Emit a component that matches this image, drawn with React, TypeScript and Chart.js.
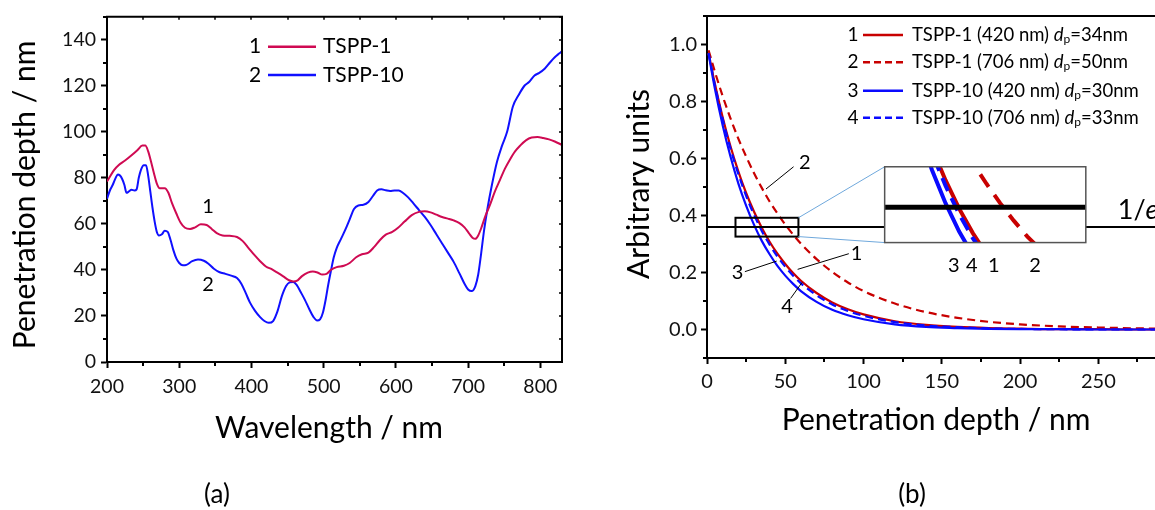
import React, { useEffect, useRef } from "react";
import { Chart, registerables } from "chart.js";
Chart.register(...registerables);

const FONT = "Lato, 'Open Sans', 'DejaVu Sans', sans-serif";

// ---------------- Panel (a) data ----------------
const SERIES_A = ["TSPP-1", "TSPP-10"];
const WL_TSPP1 = [200, 210, 216, 225, 234, 242, 249, 253, 257, 261, 265, 269, 273, 280, 285, 290, 296, 302, 308, 315, 322, 330, 338, 345, 352, 360, 370, 380, 388, 396, 404, 412, 420, 428, 436, 444, 452, 458, 464, 470, 478, 485, 492, 498, 504, 510, 518, 528, 536, 545, 553, 562, 570, 578, 586, 595, 603, 612, 622, 632, 640, 648, 656, 664, 672, 680, 688, 695, 701, 706, 710, 714, 718, 724, 730, 737, 744, 751, 758, 765, 772, 780, 788, 796, 804, 812, 820, 830];
const PD_TSPP1 = [78.4, 83.5, 85.5, 87.5, 89.8, 92, 94, 94, 91.5, 87, 82, 77.5, 75.5, 75.5, 73.5, 69, 64.5, 60.5, 58.3, 57.8, 58.5, 59.8, 59.5, 57.8, 56, 55, 54.8, 54.3, 52.5, 49.5, 46.5, 43.8, 41.5, 40.3, 38.8, 37.2, 35.5, 35, 35.5, 37.3, 38.8, 39.3, 38.8, 38, 38.3, 40, 41.2, 41.8, 43, 45.5, 46.8, 47.5, 50, 53, 55.3, 56.5, 58.3, 61, 63.8, 65.2, 65.5, 65, 64, 63, 62.3, 61.5, 60.3, 58.5, 56, 54, 53.5, 55, 58, 63.5, 68, 74, 79, 84, 88, 91.5, 94, 96.3, 97.5, 97.7, 97.3, 96.7, 95.8, 94.3];
const WL_TSPP10 = [200, 204, 208, 212, 215, 218, 221, 224, 227, 230, 234, 238, 241, 244, 247, 251, 254, 257, 260, 263, 266, 269, 272, 276, 280, 284, 288, 292, 296, 300, 305, 310, 318, 326, 334, 340, 348, 356, 364, 372, 380, 386, 392, 398, 405, 412, 418, 424, 430, 436, 442, 448, 453, 458, 463, 468, 474, 480, 486, 491, 495, 499, 503, 506, 510, 514, 518, 524, 530, 536, 542, 548, 555, 562, 568, 574, 580, 586, 592, 598, 604, 610, 617, 624, 632, 640, 648, 656, 664, 672, 680, 688, 695, 700, 705, 710, 714, 718, 722, 727, 733, 740, 747, 754, 762, 770, 778, 784, 792, 798, 806, 813, 820, 826, 830];
const PD_TSPP10 = [70.9, 74.5, 77, 80, 81.5, 81, 79.5, 77, 73.5, 74, 74.8, 74.5, 75, 80, 83.5, 85.5, 85.5, 81, 74, 67, 61, 56.5, 55, 55.5, 57, 56.5, 53, 48.5, 45, 43, 42, 42.2, 43.8, 44.5, 44, 42.8, 40.5, 39, 38.3, 37.5, 36.5, 34, 30, 25.8, 22.2, 19.5, 17.8, 17, 17.8, 22, 28.5, 33, 34.6, 34.8, 33.3, 30.5, 27, 23, 19.5, 18, 18.5, 21.5, 27.5, 33, 39.5, 45.5, 49.5, 53.5, 57.5, 62, 66.5, 68, 68.3, 69.5, 72, 74.5, 75, 74.6, 74.3, 74.5, 74.5, 73.4, 71.5, 69, 66, 63, 59.5, 55.5, 51.5, 47.5, 43.5, 38.5, 34, 31.5, 30.8, 33, 38, 47, 57, 67, 77, 87, 94, 100, 111, 116, 120, 121.5, 124.5, 125.5, 127.4, 130, 132.4, 134, 135];

// ---------------- Panel (b) data ----------------
const DEPTH = [1, 5, 10, 15, 20, 25, 30, 35, 40, 45, 50, 55, 60, 70, 80, 90, 100, 120, 140, 160, 180, 200, 225, 250, 275, 300];
const AU_TSPP1_420 = [0.97, 0.863, 0.745, 0.643, 0.555, 0.479, 0.414, 0.357, 0.308, 0.266, 0.23, 0.198, 0.171, 0.128, 0.095, 0.071, 0.053, 0.029, 0.016, 0.009, 0.005, 0.003, 0.001, 0.001, 0, 0];
const AU_TSPP1_706 = [0.98, 0.905, 0.819, 0.741, 0.67, 0.607, 0.549, 0.497, 0.449, 0.407, 0.368, 0.333, 0.301, 0.247, 0.202, 0.165, 0.135, 0.091, 0.061, 0.041, 0.027, 0.018, 0.011, 0.007, 0.004, 0.002];
const AU_TSPP10_420 = [0.967, 0.846, 0.717, 0.607, 0.513, 0.435, 0.368, 0.311, 0.264, 0.223, 0.189, 0.16, 0.135, 0.097, 0.069, 0.05, 0.036, 0.018, 0.009, 0.005, 0.002, 0.001, 0.001, 0, 0, 0];
const AU_TSPP10_706 = [0.97, 0.859, 0.739, 0.635, 0.546, 0.469, 0.403, 0.346, 0.298, 0.256, 0.22, 0.189, 0.162, 0.12, 0.088, 0.065, 0.048, 0.026, 0.014, 0.008, 0.004, 0.002, 0.001, 0, 0, 0];
const NAMES_B = ["TSPP-1 (420 nm)", "TSPP-1 (706 nm)", "TSPP-10 (420 nm)", "TSPP-10 (706 nm)"];
const DP_B = ["34", "50", "30", "33"];
const INV_E = 0.36;

const RED_A = "#cf0a52";
const BLUE_A = "#1010ff";
const RED_B = "#c80000";
const BLUE_B = "#0a0aff";

// annotation geometry (data coordinates of panel b)
const ZOOM_BOX = { x0: 18.2, x1: 58.4, y0: 0.326, y1: 0.392 };
const INSET_RECT = { x0: 113.5, x1: 242, y0: 0.305, y1: 0.571 };
const INSET_VIEW = { x0: 7.7, x1: 81.4, y0: 0.289, y1: 0.441 };

function setFont(ctx: CanvasRenderingContext2D, size: number, style = "") {
  ctx.font = `${style} ${size}px ${FONT}`.trim();
}
function txt(ctx: CanvasRenderingContext2D, s: string, x: number, y: number, size: number, align: CanvasTextAlign = "center", baseline: CanvasTextBaseline = "alphabetic", style = "") {
  setFont(ctx, size, style);
  ctx.fillStyle = "#000";
  ctx.textAlign = align;
  ctx.textBaseline = baseline;
  ctx.fillText(s, x, y);
}
function vtxt(ctx: CanvasRenderingContext2D, s: string, x: number, y: number, size: number) {
  ctx.save();
  ctx.translate(x, y);
  ctx.rotate(-Math.PI / 2);
  txt(ctx, s, 0, 0, size, "center", "alphabetic");
  ctx.restore();
}
function seg(ctx: CanvasRenderingContext2D, x0: number, y0: number, x1: number, y1: number) {
  ctx.beginPath();
  ctx.moveTo(x0, y0);
  ctx.lineTo(x1, y1);
  ctx.stroke();
}

function minorTicks(ctx: CanvasRenderingContext2D, chart: any, isMajorX: (v: number) => boolean, isMajorY: (v: number) => boolean) {
  const { chartArea: ca, scales } = chart;
  ctx.strokeStyle = "#000";
  ctx.lineWidth = 2;
  scales.x.ticks.forEach((t: any) => {
    if (isMajorX(t.value)) return;
    const px = Math.round(scales.x.getPixelForValue(t.value));
    seg(ctx, px, ca.bottom, px, ca.bottom + 4);
  });
  scales.y.ticks.forEach((t: any) => {
    if (isMajorY(t.value)) return;
    const py = Math.round(scales.y.getPixelForValue(t.value));
    seg(ctx, ca.left, py, ca.left - 4, py);
  });
}

const majA_x = (v: number) => Math.round(v) % 100 === 0;
const majA_y = (v: number) => Math.round(v) % 20 === 0;
const majB_x = (v: number) => Math.round(v) % 50 === 0;
const majB_y = (v: number) => Math.abs(Math.round(v * 10)) % 2 === 0;

function axisOpts(min: number, max: number, step: number, isMajor: (v: number) => boolean, fmt: (v: number) => string, fit: (s: any) => void, padding: number, size: number) {
  return {
    type: "linear" as const,
    min,
    max,
    ticks: {
      stepSize: step,
      includeBounds: false,
      autoSkip: false,
      maxRotation: 0,
      minRotation: 0,
      padding,
      color: "#111",
      font: { family: FONT, size },
      callback: (v: any) => (isMajor(Number(v)) ? fmt(Number(v)) : ""),
    },
    grid: {
      display: true,
      drawOnChartArea: false,
      drawTicks: true,
      tickLength: 6,
      tickWidth: 2,
      tickColor: (c: any) => (c.tick && isMajor(c.tick.value) ? "#000" : "rgba(0,0,0,0)"),
    },
    border: { display: true, color: "#000", width: 2 },
    afterFit: fit,
  };
}

// ---------------- Panel (a) plugin ----------------
const panelA = {
  id: "panelA",
  afterDraw(chart: any) {
    const { ctx, chartArea: ca, scales } = chart;
    const xs = scales.x, ys = scales.y;
    ctx.save();
    ctx.strokeStyle = "#000";
    ctx.lineWidth = 2;
    seg(ctx, ca.left - 1, ca.top, ca.right + 1, ca.top);
    seg(ctx, ca.right, ca.top, ca.right, ca.bottom + 1);
    minorTicks(ctx, chart, majA_x, majA_y);
    // mirror ticks (inward) on top and right
    ctx.lineWidth = 1.5;
    xs.ticks.forEach((t: any) => {
      const px = Math.round(xs.getPixelForValue(t.value));
      seg(ctx, px, ca.top, px, ca.top + 3);
    });
    ys.ticks.forEach((t: any) => {
      const py = Math.round(ys.getPixelForValue(t.value));
      seg(ctx, ca.right, py, ca.right - 3, py);
    });
    // legend
    const rows = [46.7, 75];
    const cols = [RED_A, BLUE_A];
    rows.forEach((ry, i) => {
      txt(ctx, String(i + 1), 255, ry, 21, "center", "middle");
      ctx.strokeStyle = cols[i];
      ctx.lineWidth = 2.5;
      seg(ctx, 268, ry, 316, ry);
      txt(ctx, SERIES_A[i], 323, ry, 21, "left", "middle");
    });
    // curve labels
    txt(ctx, "1", xs.getPixelForValue(340), ys.getPixelForValue(67.4), 20, "center", "middle");
    txt(ctx, "2", xs.getPixelForValue(340), ys.getPixelForValue(33.5), 20, "center", "middle");
    // axis titles
    txt(ctx, "Wavelength / nm", 329, 438, 30);
    vtxt(ctx, "Penetration depth / nm", 35, 195, 30);
    txt(ctx, "(a)", 217, 503, 26);
    ctx.restore();
  },
};

// ---------------- Panel (b) plugin ----------------
const LEADERS = [
  { label: "2", from: [37.7, 0.493], to: [55.3, 0.571], at: [62.5, 0.585] },
  { label: "1", from: [57.9, 0.211], to: [90.6, 0.266], at: [95.5, 0.268] },
  { label: "3", from: [24.2, 0.203], to: [44.5, 0.24], at: [19.5, 0.199] },
  { label: "4", from: [53.4, 0.109], to: [60.7, 0.165], at: [51.2, 0.081] },
];
const INSET_LABELS = [
  { label: "3", x: 157.6 },
  { label: "4", x: 169.2 },
  { label: "1", x: 183.2 },
  { label: "2", x: 209.6 },
];

const panelB = {
  id: "panelB",
  afterDatasetsDraw(chart: any) {
    const { ctx, chartArea: ca, scales } = chart;
    const xs = scales.x, ys = scales.y;
    const X = (v: number) => xs.getPixelForValue(v);
    const Y = (v: number) => ys.getPixelForValue(v);
    ctx.save();
    // 1/e line
    ctx.strokeStyle = "#000";
    ctx.lineWidth = 2;
    seg(ctx, ca.left, Math.round(Y(INV_E)), ca.right, Math.round(Y(INV_E)));
    // zoom box
    const bx0 = X(ZOOM_BOX.x0), bx1 = X(ZOOM_BOX.x1), by0 = Y(ZOOM_BOX.y1), by1 = Y(ZOOM_BOX.y0);
    ctx.strokeRect(bx0, by0, bx1 - bx0, by1 - by0);
    // inset rect
    const ix0 = X(INSET_RECT.x0), ix1 = X(INSET_RECT.x1), iy0 = Y(INSET_RECT.y1), iy1 = Y(INSET_RECT.y0);
    // connectors
    ctx.strokeStyle = "#6fa8dc";
    ctx.lineWidth = 1;
    seg(ctx, bx1, by0, ix0, iy0);
    seg(ctx, bx1, by1, ix0, iy1);
    ctx.fillStyle = "#fff";
    ctx.fillRect(ix0, iy0, ix1 - ix0, iy1 - iy0);
    ctx.save();
    ctx.beginPath();
    ctx.rect(ix0, iy0, ix1 - ix0, iy1 - iy0);
    ctx.clip();
    const map = (x: number, y: number) => [
      ix0 + ((x - INSET_VIEW.x0) / (INSET_VIEW.x1 - INSET_VIEW.x0)) * (ix1 - ix0),
      iy0 + ((INSET_VIEW.y1 - y) / (INSET_VIEW.y1 - INSET_VIEW.y0)) * (iy1 - iy0),
    ];
    const curves = [
      { ys: AU_TSPP1_706, c: RED_B, dash: [15, 10] },
      { ys: AU_TSPP1_420, c: RED_B, dash: [] },
      { ys: AU_TSPP10_706, c: BLUE_B, dash: [14, 8] },
      { ys: AU_TSPP10_420, c: BLUE_B, dash: [] },
    ];
    curves.forEach((cv) => {
      ctx.strokeStyle = cv.c;
      ctx.lineWidth = 4;
      ctx.setLineDash(cv.dash);
      ctx.beginPath();
      DEPTH.forEach((d, i) => {
        const [px, py] = map(d, cv.ys[i]);
        if (i === 0) ctx.moveTo(px, py);
        else ctx.lineTo(px, py);
      });
      ctx.stroke();
    });
    ctx.setLineDash([]);
    ctx.strokeStyle = "#000";
    ctx.lineWidth = 5;
    const [, ly] = map(0, INV_E);
    seg(ctx, ix0, ly, ix1, ly);
    ctx.restore();
    ctx.strokeStyle = "#555";
    ctx.lineWidth = 1.5;
    ctx.strokeRect(ix0, iy0, ix1 - ix0, iy1 - iy0);
    ctx.restore();
  },
  afterDraw(chart: any) {
    const { ctx, chartArea: ca, scales } = chart;
    const xs = scales.x, ys = scales.y;
    const X = (v: number) => xs.getPixelForValue(v);
    const Y = (v: number) => ys.getPixelForValue(v);
    ctx.save();
    ctx.strokeStyle = "#000";
    ctx.lineWidth = 2;
    seg(ctx, ca.left - 1, ca.top, ca.right + 1, ca.top);
    seg(ctx, ca.right, ca.top, ca.right, ca.bottom + 1);
    minorTicks(ctx, chart, majB_x, majB_y);
    // leaders
    ctx.lineWidth = 1;
    LEADERS.forEach((l) => {
      ctx.strokeStyle = "#000";
      seg(ctx, X(l.from[0]), Y(l.from[1]), X(l.to[0]), Y(l.to[1]));
      txt(ctx, l.label, X(l.at[0]), Y(l.at[1]), 20, "center", "middle");
    });
    INSET_LABELS.forEach((l) => txt(ctx, l.label, X(l.x), Y(0.223), 20, "center", "middle"));
    // 1/e label
    const ex = X(262.4), ey = Y(0.386);
    txt(ctx, "1/", ex, ey, 27, "left", "alphabetic");
    setFont(ctx, 27);
    const w = ctx.measureText("1/").width;
    txt(ctx, "e", ex + w, ey, 27, "left", "alphabetic", "italic");
    // legend
    const rows = [35, 62.3, 90.7, 117.7];
    const cols = [RED_B, RED_B, BLUE_B, BLUE_B];
    const dashes = [[], [7, 4], [], [7, 4]];
    rows.forEach((ry, i) => {
      txt(ctx, String(i + 1), 253, ry, 19, "center", "middle");
      ctx.strokeStyle = cols[i];
      ctx.lineWidth = 2.5;
      ctx.setLineDash(dashes[i]);
      seg(ctx, 263, ry, 303, ry);
      ctx.setLineDash([]);
      let x = 312;
      const put = (s: string, size: number, style = "", dy = 0) => {
        txt(ctx, s, x, ry + dy, size, "left", "middle", style);
        setFont(ctx, size, style);
        x += ctx.measureText(s).width;
      };
      put(NAMES_B[i] + " ", 18.5);
      put("d", 18.5, "italic");
      put("p", 12, "", 4);
      put("=" + DP_B[i] + "nm", 18.5);
    });
    // axis titles
    txt(ctx, "Penetration depth / nm", 336, 430, 30);
    vtxt(ctx, "Arbitrary units", 49, 184, 30);
    txt(ctx, "(b)", 312, 503, 26);
    ctx.restore();
  },
};

function configA(): any {
  return {
    type: "line",
    data: {
      datasets: [
        { label: SERIES_A[0], data: WL_TSPP1.map((x, i) => ({ x, y: PD_TSPP1[i] })), borderColor: RED_A, borderWidth: 2, pointRadius: 0, cubicInterpolationMode: "monotone", fill: false },
        { label: SERIES_A[1], data: WL_TSPP10.map((x, i) => ({ x, y: PD_TSPP10[i] })), borderColor: BLUE_A, borderWidth: 2, pointRadius: 0, cubicInterpolationMode: "monotone", fill: false },
      ],
    },
    options: {
      responsive: false,
      animation: false,
      events: [],
      layout: { padding: { left: 0, top: 13, right: 38, bottom: 0 } },
      plugins: { legend: { display: false }, tooltip: { enabled: false } },
      scales: {
        x: axisOpts(200, 830, 50, majA_x, (v) => String(v), (s: any) => { s.height = 148; }, 7, 19.5),
        y: axisOpts(0, 150, 10, majA_y, (v) => String(v), (s: any) => { s.width = 107; }, 5, 19.5),
      },
    },
    plugins: [panelA],
  };
}

function configB(): any {
  const mk = (label: string, ys: number[], color: string, dash: number[]) => ({
    label,
    data: DEPTH.map((x, i) => ({ x, y: ys[i] })),
    borderColor: color,
    borderWidth: 2.2,
    borderDash: dash,
    pointRadius: 0,
    cubicInterpolationMode: "monotone",
    fill: false,
  });
  return {
    type: "line",
    data: {
      datasets: [
        mk(NAMES_B[2], AU_TSPP10_420, BLUE_B, []),
        mk(NAMES_B[3], AU_TSPP10_706, BLUE_B, [8, 5]),
        mk(NAMES_B[0], AU_TSPP1_420, RED_B, []),
        mk(NAMES_B[1], AU_TSPP1_706, RED_B, [8, 5]),
      ],
    },
    options: {
      responsive: false,
      animation: false,
      events: [],
      layout: { padding: { left: 0, top: 12, right: 21, bottom: 0 } },
      plugins: { legend: { display: false }, tooltip: { enabled: false } },
      scales: {
        x: axisOpts(0, 300, 25, majB_x, (v) => String(v), (s: any) => { s.height = 152; }, 6, 20),
        y: axisOpts(-0.1, 1.1, 0.1, majB_y, (v) => (Math.abs(v) < 1e-9 ? "0.0" : v.toFixed(1)), (s: any) => { s.width = 107; }, 4, 20),
      },
    },
    plugins: [panelB],
  };
}

export default function App() {
  const refA = useRef<HTMLCanvasElement>(null);
  const refB = useRef<HTMLCanvasElement>(null);
  useEffect(() => {
    const a = new Chart(refA.current as HTMLCanvasElement, configA());
    const b = new Chart(refB.current as HTMLCanvasElement, configB());
    return () => {
      a.destroy();
      b.destroy();
    };
  }, []);
  return (
    <div style={{ position: "fixed", left: 0, top: 0, width: 1155, height: 510, overflow: "hidden", background: "#fff" }}>
      <canvas ref={refA} width={600} height={510} style={{ position: "absolute", left: 0, top: 0, width: 600, height: 510 }} />
      <canvas ref={refB} width={600} height={510} style={{ position: "absolute", left: 600, top: 0, width: 600, height: 510 }} />
    </div>
  );
}
